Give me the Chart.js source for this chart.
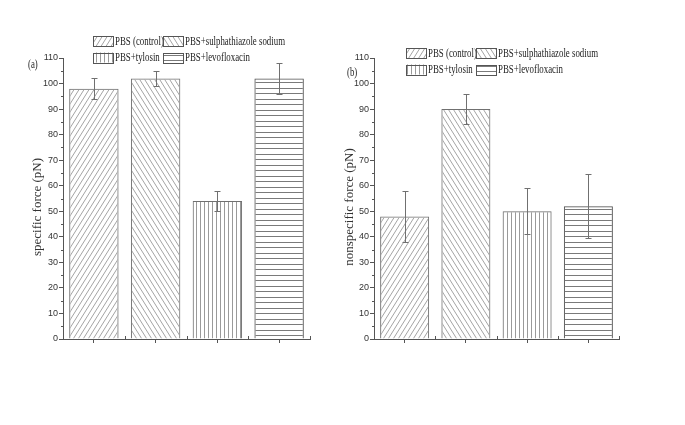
<!DOCTYPE html>
<html>
<head>
<meta charset="utf-8">
<title>Specific and nonspecific force</title>
<script src="https://cdn.jsdelivr.net/npm/chart.js@4.4.0/dist/chart.umd.min.js"></script>
<style>
  html, body { margin: 0; padding: 0; background: #fff; }
  #wrap { position: relative; width: 685px; height: 425px; overflow: hidden; }
  .panel { position: absolute; top: 0; height: 425px; }
  #panelA { left: 0; width: 335px; }
  #panelB { left: 335px; width: 350px; }
</style>
</head>
<body>
<div id="wrap">
  <div class="panel" id="panelA"><canvas id="chartA"></canvas></div>
  <div class="panel" id="panelB"><canvas id="chartB"></canvas></div>
</div>
<script>
// ── data ──────────────────────────────────────────────────────────────────
const categories = ["PBS (control)", "PBS+sulphathiazole sodium", "PBS+tylosin", "PBS+levofloxacin"];
const specificForce = [98, 102, 54, 102];
const specificErr = [4, 3, 4, 6];
const nonspecificForce = [48, 90, 50, 52];
const nonspecificErr = [10, 6, 9, 12.5];
const yMin = 0;
const yMax = 110;
const yStep = 10;
const yMinorStep = 5;

const INK = "#333";
const SERIF = '"Liberation Serif", "Times New Roman", serif';
const NARROW = '"Liberation Sans Narrow", "Arial Narrow", "Liberation Sans", sans-serif';

Chart.defaults.color = INK;

// ── hatch patterns ────────────────────────────────────────────────────────

function makePattern(kind) {
  const c = document.createElement("canvas");
  let g;
  if (kind === "fwd" || kind === "back") {
    c.width = 5; c.height = 8;
    g = c.getContext("2d");
    g.strokeStyle = "#a4a4a4";
    g.lineWidth = 1;
    for (const dx of [-5, 0, 5]) {
      g.beginPath();
      if (kind === "fwd") { g.moveTo(dx, 8); g.lineTo(dx + 5, 0); }
      else { g.moveTo(dx, 0); g.lineTo(dx + 5, 8); }
      g.stroke();
    }
  } else if (kind === "vert") {
    c.width = 4; c.height = 1;
    g = c.getContext("2d");
    g.fillStyle = "#9a9a9a";
    g.fillRect(0, 0, 1, 1);
  } else {
    c.width = 1; c.height = 11;
    g = c.getContext("2d");
    g.fillStyle = "#7a7a7a";
    g.fillRect(0, 0, 1, 1);
    g.fillRect(0, 5, 1, 1);
  }
  return g.createPattern(c, "repeat");
}

const patterns = [makePattern("fwd"), makePattern("back"), makePattern("vert"), makePattern("horiz")];
const borders = ["#707070", "#707070", "#707070", "#505050"];

// ── drawing helpers ───────────────────────────────────────────────────────

function drawCondensed(ctx, text, x, y) {
  ctx.save();
  ctx.translate(x, y);
  ctx.scale(0.68, 1);
  ctx.font = "13px " + SERIF;
  ctx.fillStyle = "#222";
  ctx.textBaseline = "middle";
  ctx.textAlign = "left";
  ctx.fillText(text, 0, 0);
  ctx.restore();
}

function drawLegend(ctx, x0, y0) {
  categories.forEach((name, i) => {
    const bx = x0 + (i % 2) * 70;
    const by = y0 + Math.floor(i / 2) * 16.5;
    ctx.fillStyle = "#fff";
    ctx.fillRect(bx, by, 20, 10);
    ctx.fillStyle = patterns[i];
    ctx.fillRect(bx, by, 20, 10);
    ctx.strokeStyle = "#555";
    ctx.lineWidth = 1;
    ctx.strokeRect(Math.round(bx) + 0.5, Math.round(by) + 0.5, 20, 10);
    drawCondensed(ctx, name, bx + 22, by + 5.5);
  });
}

// error bars, legend, panel letter, axis title and minor ticks
function makeDecor(cfg) {
  return {
    id: "decor" + cfg.label,
    afterDatasetsDraw(chart) {
      const ctx = chart.ctx;
      const y = chart.scales.y;
      ctx.save();
      ctx.strokeStyle = "#707070";
      ctx.lineWidth = 1;
      chart.getDatasetMeta(0).data.forEach((bar, i) => {
        const x = Math.round(bar.x) + 0.5;
        const top = Math.round(y.getPixelForValue(cfg.values[i] + cfg.errors[i])) + 0.5;
        const bot = Math.round(y.getPixelForValue(cfg.values[i] - cfg.errors[i])) + 0.5;
        ctx.beginPath();
        ctx.moveTo(x, top); ctx.lineTo(x, bot);
        ctx.moveTo(x - 3, top); ctx.lineTo(x + 3, top);
        ctx.moveTo(x - 3, bot); ctx.lineTo(x + 3, bot);
        ctx.stroke();
      });
      ctx.restore();
    },
    afterDraw(chart) {
      const ctx = chart.ctx;
      const area = chart.chartArea;
      const y = chart.scales.y;
      const x = chart.scales.x;
      ctx.save();
      ctx.strokeStyle = "#555";
      ctx.lineWidth = 1;
      ctx.beginPath();
      // minor y ticks
      for (let v = yMin + yMinorStep; v < yMax; v += yStep) {
        const py = Math.round(y.getPixelForValue(v)) + 0.5;
        ctx.moveTo(area.left - 2, py); ctx.lineTo(area.left, py);
      }
      // small upward ticks at category boundaries
      const n = categories.length;
      for (let i = 0; i < n; i++) {
        const next = i < n - 1 ? x.getPixelForValue(i + 1) : 2 * x.getPixelForValue(i) - x.getPixelForValue(i - 1);
        const px = Math.round((x.getPixelForValue(i) + next) / 2) + 0.5;
        ctx.moveTo(px, area.bottom); ctx.lineTo(px, area.bottom - 3);
      }
      ctx.stroke();

      // y axis title
      ctx.translate(cfg.titleX, cfg.titleY);
      ctx.rotate(-Math.PI / 2);
      ctx.font = "13px " + SERIF;
      ctx.fillStyle = INK;
      ctx.textAlign = "center";
      ctx.textBaseline = "middle";
      ctx.fillText(cfg.title, 0, 0);
      ctx.restore();

      drawLegend(ctx, cfg.legendX, cfg.legendY);
      drawCondensed(ctx, cfg.label, cfg.labelX, cfg.labelY);
    }
  };
}

function buildChart(canvasId, values, layout, decor) {
  return new Chart(document.getElementById(canvasId), {
    type: "bar",
    data: {
      labels: categories,
      datasets: [{
        data: values,
        backgroundColor: patterns,
        borderColor: borders,
        borderWidth: 1,
        barPercentage: 0.8,
        categoryPercentage: 1.0
      }]
    },
    options: {
      responsive: true,
      maintainAspectRatio: false,
      animation: false,
      layout: { padding: layout.padding },
      plugins: { legend: { display: false }, tooltip: { enabled: false } },
      scales: {
        x: {
          offset: true,
          grid: { offset: false, drawOnChartArea: false, drawTicks: true, tickLength: 4, color: "#555" },
          border: { display: true, color: "#555", width: 1 },
          ticks: { callback: () => "" },
          afterFit: (s) => { s.height = layout.xHeight; }
        },
        y: {
          min: yMin,
          max: yMax,
          grid: { drawOnChartArea: false, drawTicks: true, tickLength: 4, color: "#555" },
          border: { display: true, color: "#555", width: 1 },
          ticks: { stepSize: yStep, padding: 1, color: INK, font: { family: NARROW, size: 9 } },
          afterFit: (s) => { s.width = layout.yWidth; }
        }
      }
    },
    plugins: [makeDecor(decor)]
  });
}

buildChart("chartA", specificForce,
  { padding: { left: 30, top: 58, right: 25, bottom: 0 }, yWidth: 33, xHeight: 86 },
  { label: "(a)", labelX: 28, labelY: 65, legendX: 93, legendY: 36,
    title: "specific force (pN)", titleX: 38, titleY: 207,
    values: specificForce, errors: specificErr });

buildChart("chartB", nonspecificForce,
  { padding: { left: 7, top: 58, right: 66, bottom: 0 }, yWidth: 32, xHeight: 86 },
  { label: "(b)", labelX: 12, labelY: 73, legendX: 71, legendY: 48,
    title: "nonspecific force (pN)", titleX: 15, titleY: 207,
    values: nonspecificForce, errors: nonspecificErr });
</script>
</body>
</html>
